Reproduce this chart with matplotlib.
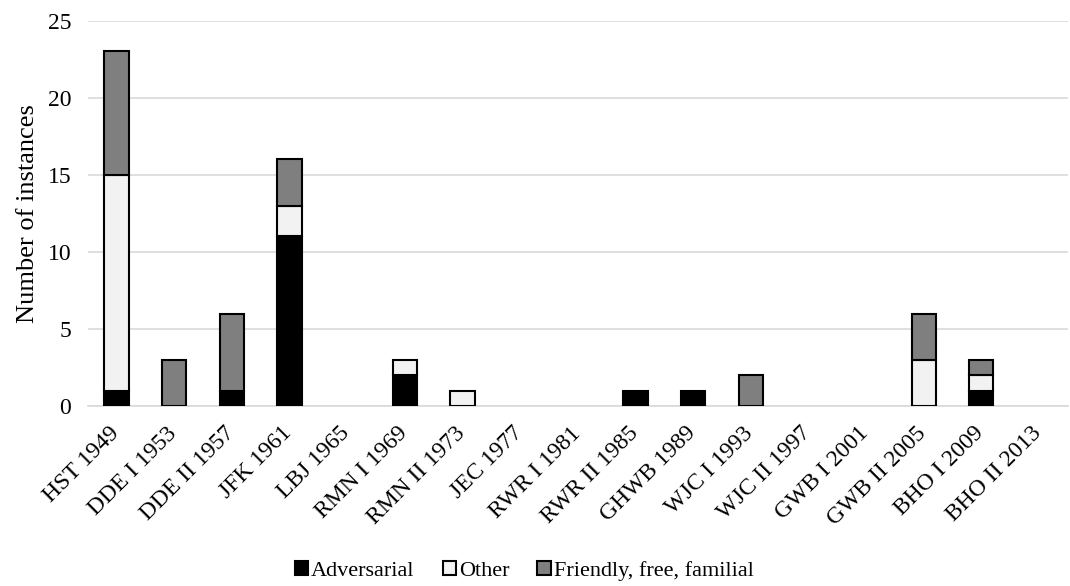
import numpy as np
import matplotlib
matplotlib.use('Agg')
import matplotlib.pyplot as plt
import matplotlib.transforms as mtransforms

plt.rcParams.update({
    'font.family': 'Liberation Serif',
    'font.size': 16,
})

categorias = ['HST 1949', 'DDE I 1953', 'DDE II 1957', 'JFK 1961', 'LBJ 1965',
              'RMN I 1969', 'RMN II 1973', 'JEC 1977', 'RWR I 1981', 'RWR II 1985',
              'GHWB 1989', 'WJC I 1993', 'WJC II 1997', 'GWB I 2001', 'GWB II 2005',
              'BHO I 2009', 'BHO II 2013']
adversarial = [1, 0, 1, 11, 0, 2, 0, 0, 0, 1, 1, 0, 0, 0, 0, 1, 0]
other       = [14, 0, 0, 2, 0, 1, 1, 0, 0, 0, 0, 0, 0, 0, 3, 1, 0]
friendly    = [8, 3, 5, 3, 0, 0, 0, 0, 0, 0, 0, 2, 0, 0, 3, 1, 0]

series = [
    ('Adversarial', adversarial, '#000000'),
    ('Other', other, '#f2f2f2'),
    ('Friendly, free, familial', friendly, '#7f7f7f'),
]

fig, ax = plt.subplots(figsize=(10.7, 5.86), dpi=100)
fig.subplots_adjust(left=0.082, right=0.998, top=0.965, bottom=0.307)

x = np.arange(len(categorias))
base = np.zeros(len(categorias))
for nome, vals, cor in series:
    vals = np.array(vals, dtype=float)
    lw = [1.5 if v > 0 else 0 for v in vals]
    ax.bar(x, vals, 0.42, bottom=base, color=cor, edgecolor='black',
           linewidth=lw, label=nome, zorder=3)
    base += vals

ax.set_ylim(0, 25)
ax.set_yticks(range(0, 26, 5))
ax.set_xlim(-0.5, len(categorias) - 0.5)
ax.yaxis.grid(True, color='#d9d9d9', linewidth=1.2, zorder=0)
for s in ['top', 'right', 'left']:
    ax.spines[s].set_visible(False)
ax.spines['bottom'].set_color('#d9d9d9')
ax.spines['bottom'].set_linewidth(1.2)
ax.tick_params(axis='both', length=0, labelsize=17)
ax.tick_params(axis='y', pad=12)
ax.tick_params(axis='x', pad=12)
ax.set_xticks(x)
ax.set_xticklabels(categorias, rotation=45, ha='right', rotation_mode='anchor')
# desloca os rótulos do eixo x um pouco para a esquerda
desloc = mtransforms.ScaledTranslation(-0.08, 0, fig.dpi_scale_trans)
for lbl in ax.get_xticklabels():
    lbl.set_transform(lbl.get_transform() + desloc)
ax.set_ylabel('Number of instances', fontsize=19, labelpad=6)

fig.legend(loc='lower center', bbox_to_anchor=(0.49, -0.006), ncol=3, frameon=False,
           fontsize=16, handlelength=0.6, handleheight=0.6, handletextpad=0.15,
           columnspacing=1.25, borderaxespad=0.0)

fig.savefig('out.png', dpi=100)
